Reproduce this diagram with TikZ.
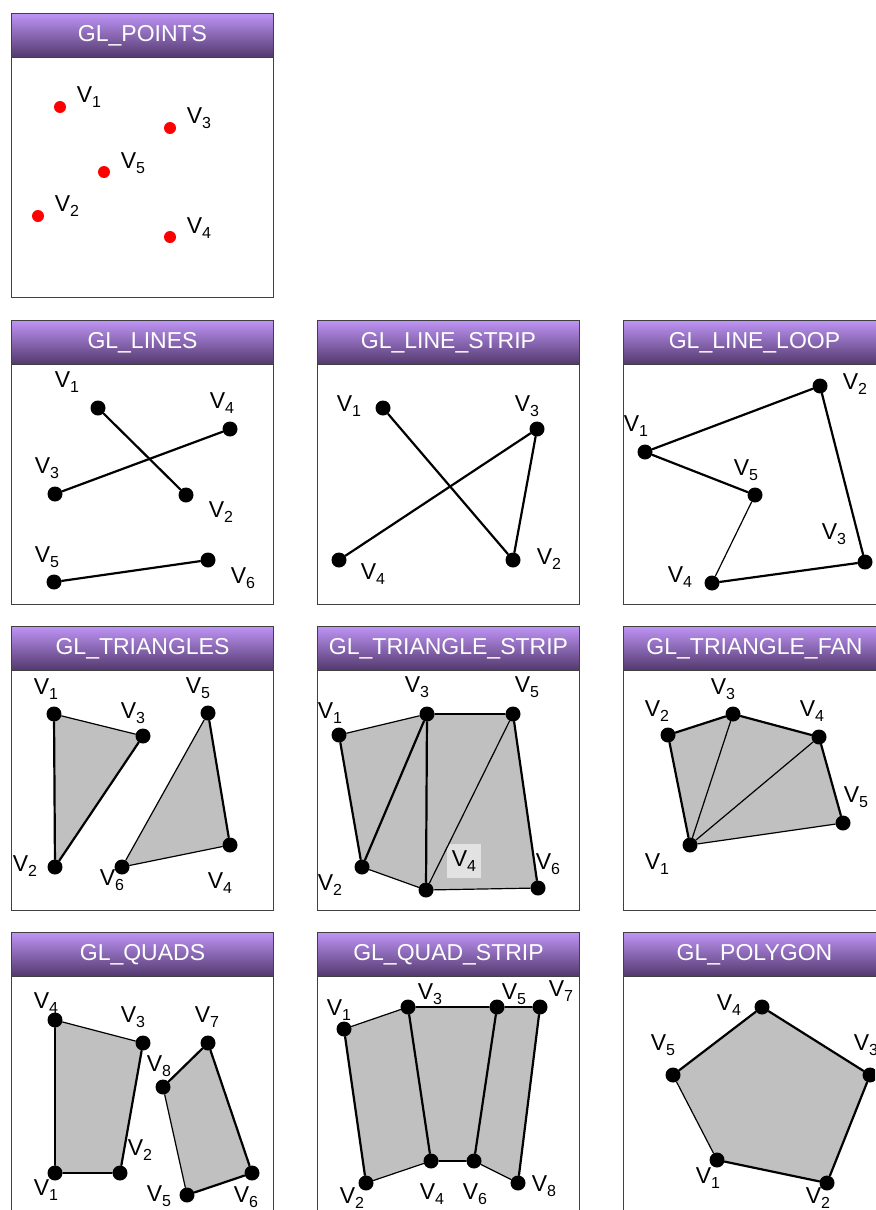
\documentclass[tikz,border=0pt]{standalone}
\usepackage{fontspec}
\setmainfont{Liberation Sans}
\usepackage{xcolor}
\usepackage{tikz}
\usetikzlibrary{positioning, backgrounds}
\definecolor{titletop}{RGB}{190, 148, 245}
\definecolor{titlebot}{RGB}{82, 56, 108}
\definecolor{framegray}{RGB}{64, 64, 64}
\definecolor{facegray}{RGB}{192, 192, 192}
\definecolor{hlgray}{RGB}{226, 226, 226}
\definecolor{pointred}{RGB}{255, 0, 0}
\pgfdeclarelayer{panels}
\pgfsetlayers{panels,background,main}
\newcommand{\vsub}[1]{V\raisebox{-2.2pt}{\fontsize{8}{9}\selectfont #1}}

\begin{document}
\begin{tikzpicture}[
    x=0.5pt, y=-0.5pt,
    panelbox/.style={rectangle, draw=framegray, line width=0.5pt, fill=white, anchor=north west, inner sep=0, minimum width=131pt, minimum height=142pt},
    titlebar/.style={rectangle, draw=framegray, line width=0.5pt, top color=titletop, bottom color=titlebot, anchor=north west, inner sep=0, minimum width=131pt, minimum height=22pt, text=white, font=\fontsize{11.5}{13}\selectfont},
    dot/.style={circle, fill=black, inner sep=0, minimum size=7.5pt},
    reddot/.style={circle, fill=pointred, inner sep=0, minimum size=6pt},
    vlabel/.style={inner sep=0, font=\fontsize{11.5}{13}\selectfont},
    edge/.style={line width=1.1pt, line cap=round},
    thinedge/.style={line width=0.6pt, line cap=round},
    face/.style={fill=facegray}
]
    \useasboundingbox (0,0) rectangle (875,1210);
    \clip (0,0) rectangle (875,1210);

    % panels
    \begin{pgfonlayer}{panels}
        \fill[white] (0,0) rectangle (875,1210);
        \node[panelbox] (points-box) at (11,13) {};
        \node[titlebar] (points-title) at (11,13) {GL\_POINTS};
        \node[panelbox] (lines-box) at (11,320) {};
        \node[titlebar] (lines-title) at (11,320) {GL\_LINES};
        \node[panelbox] (strip-box) at (317,320) {};
        \node[titlebar] (strip-title) at (317,320) {GL\_LINE\_STRIP};
        \node[panelbox] (loop-box) at (623,320) {};
        \node[titlebar] (loop-title) at (623,320) {GL\_LINE\_LOOP};
        \node[panelbox] (tris-box) at (11,626) {};
        \node[titlebar] (tris-title) at (11,626) {GL\_TRIANGLES};
        \node[panelbox] (tstrip-box) at (317,626) {};
        \node[titlebar] (tstrip-title) at (317,626) {GL\_TRIANGLE\_STRIP};
        \node[panelbox] (fan-box) at (623,626) {};
        \node[titlebar] (fan-title) at (623,626) {GL\_TRIANGLE\_FAN};
        \node[panelbox] (quads-box) at (11,932) {};
        \node[titlebar] (quads-title) at (11,932) {GL\_QUADS};
        \node[panelbox] (qstrip-box) at (317,932) {};
        \node[titlebar] (qstrip-title) at (317,932) {GL\_QUAD\_STRIP};
        \node[panelbox] (poly-box) at (623,932) {};
        \node[titlebar] (poly-title) at (623,932) {GL\_POLYGON};
    \end{pgfonlayer}

    % GL_POINTS
    \node[reddot] (pt1) at (60,107) {};
    \node[reddot] (pt2) at (38,216) {};
    \node[reddot] (pt3) at (170,128) {};
    \node[reddot] (pt4) at (170,237) {};
    \node[reddot] (pt5) at (104,172) {};
    \node[vlabel] (pt1-l) at (89,97) {\vsub{1}};
    \node[vlabel] (pt2-l) at (67,206) {\vsub{2}};
    \node[vlabel] (pt3-l) at (199,118) {\vsub{3}};
    \node[vlabel] (pt4-l) at (199,228) {\vsub{4}};
    \node[vlabel] (pt5-l) at (133,163) {\vsub{5}};

    % GL_LINES
    \node[dot] (ln1) at (98,408) {};
    \node[dot] (ln2) at (186,495) {};
    \node[dot] (ln3) at (55,494) {};
    \node[dot] (ln4) at (230,429) {};
    \node[dot] (ln5) at (54,582) {};
    \node[dot] (ln6) at (208,560) {};
    \node[vlabel] (ln1-l) at (67,382) {\vsub{1}};
    \node[vlabel] (ln2-l) at (221,512) {\vsub{2}};
    \node[vlabel] (ln3-l) at (47,468) {\vsub{3}};
    \node[vlabel] (ln4-l) at (222,403) {\vsub{4}};
    \node[vlabel] (ln5-l) at (47,557) {\vsub{5}};
    \node[vlabel] (ln6-l) at (243,578) {\vsub{6}};
    \draw[edge] (ln1) -- (ln2);
    \draw[edge] (ln3) -- (ln4);
    \draw[edge] (ln5) -- (ln6);

    % GL_LINE_STRIP
    \node[dot] (ls1) at (383,408) {};
    \node[dot] (ls2) at (513,560) {};
    \node[dot] (ls3) at (537,429) {};
    \node[dot] (ls4) at (339,560) {};
    \node[vlabel] (ls1-l) at (349,406) {\vsub{1}};
    \node[vlabel] (ls2-l) at (549,559) {\vsub{2}};
    \node[vlabel] (ls3-l) at (527,406) {\vsub{3}};
    \node[vlabel] (ls4-l) at (373,574) {\vsub{4}};
    \draw[edge] (ls1) -- (ls2);
    \draw[edge] (ls2) -- (ls3);
    \draw[edge] (ls3) -- (ls4);

    % GL_LINE_LOOP
    \node[dot] (ll1) at (645,452) {};
    \node[dot] (ll2) at (820,386) {};
    \node[dot] (ll3) at (865,562) {};
    \node[dot] (ll4) at (712,583) {};
    \node[dot] (ll5) at (755,495) {};
    \node[vlabel] (ll1-l) at (636,426) {\vsub{1}};
    \node[vlabel] (ll2-l) at (855,384) {\vsub{2}};
    \node[vlabel] (ll3-l) at (834,534) {\vsub{3}};
    \node[vlabel] (ll4-l) at (680,577) {\vsub{4}};
    \node[vlabel] (ll5-l) at (746,470) {\vsub{5}};
    \draw[edge] (ll1) -- (ll2);
    \draw[edge] (ll2) -- (ll3);
    \draw[edge] (ll3) -- (ll4);
    \draw[thinedge] (ll4) -- (ll5);
    \draw[edge] (ll5) -- (ll1);

    % GL_TRIANGLES
    \node[dot] (tr1) at (54,714) {};
    \node[dot] (tr2) at (55,867) {};
    \node[dot] (tr3) at (143,736) {};
    \node[dot] (tr4) at (230,845) {};
    \node[dot] (tr5) at (208,713) {};
    \node[dot] (tr6) at (122,867) {};
    \node[vlabel] (tr1-l) at (46,689) {\vsub{1}};
    \node[vlabel] (tr2-l) at (25,866) {\vsub{2}};
    \node[vlabel] (tr3-l) at (133,713) {\vsub{3}};
    \node[vlabel] (tr4-l) at (220,883) {\vsub{4}};
    \node[vlabel] (tr5-l) at (198,688) {\vsub{5}};
    \node[vlabel] (tr6-l) at (112,880) {\vsub{6}};
    \begin{scope}[on background layer]
        \fill[face] (tr1.center) -- (tr2.center) -- (tr3.center) -- cycle;
        \fill[face] (tr4.center) -- (tr5.center) -- (tr6.center) -- cycle;
    \end{scope}
    \draw[edge] (tr1) -- (tr2);
    \draw[edge] (tr2) -- (tr3);
    \draw[thinedge] (tr3) -- (tr1);
    \draw[edge] (tr5) -- (tr4);
    \draw[thinedge] (tr4) -- (tr6);
    \draw[thinedge] (tr6) -- (tr5);

    % GL_TRIANGLE_STRIP
    \node[dot] (ts1) at (339,735) {};
    \node[dot] (ts2) at (362,867) {};
    \node[dot] (ts3) at (427,714) {};
    \node[dot] (ts4) at (426,890) {};
    \node[dot] (ts5) at (513,714) {};
    \node[dot] (ts6) at (538,888) {};
    \node[vlabel] (ts1-l) at (330,713) {\vsub{1}};
    \node[vlabel] (ts2-l) at (330,885) {\vsub{2}};
    \node[vlabel] (ts3-l) at (417,687) {\vsub{3}};
    \node[vlabel, fill=hlgray, minimum width=17pt, minimum height=17pt] (ts4-l) at (464,861) {\vsub{4}};
    \node[vlabel] (ts5-l) at (527,687) {\vsub{5}};
    \node[vlabel] (ts6-l) at (548,864) {\vsub{6}};
    \begin{scope}[on background layer]
        \fill[face] (ts1.center) -- (ts3.center) -- (ts5.center) -- (ts6.center) -- (ts4.center) -- (ts2.center) -- cycle;
    \end{scope}
    \draw[thinedge] (ts1) -- (ts3);
    \draw[edge] (ts1) -- (ts2);
    \draw[edge] (ts2) -- (ts3);
    \draw[thinedge] (ts2) -- (ts4);
    \draw[edge] (ts3) -- (ts4);
    \draw[thinedge] (ts3) -- (ts5);
    \draw[thinedge] (ts4) -- (ts5);
    \draw[edge] (ts5) -- (ts6);
    \draw[thinedge] (ts4) -- (ts6);

    % GL_TRIANGLE_FAN
    \node[dot] (tf1) at (690,845) {};
    \node[dot] (tf2) at (668,735) {};
    \node[dot] (tf3) at (733,714) {};
    \node[dot] (tf4) at (819,737) {};
    \node[dot] (tf5) at (843,823) {};
    \node[vlabel] (tf1-l) at (657,864) {\vsub{1}};
    \node[vlabel] (tf2-l) at (657,711) {\vsub{2}};
    \node[vlabel] (tf3-l) at (723,689) {\vsub{3}};
    \node[vlabel] (tf4-l) at (812,711) {\vsub{4}};
    \node[vlabel] (tf5-l) at (856,797) {\vsub{5}};
    \begin{scope}[on background layer]
        \fill[face] (tf1.center) -- (tf2.center) -- (tf3.center) -- (tf4.center) -- (tf5.center) -- cycle;
    \end{scope}
    \draw[edge] (tf1) -- (tf2);
    \draw[edge] (tf2) -- (tf3);
    \draw[edge] (tf3) -- (tf4);
    \draw[edge] (tf4) -- (tf5);
    \draw[thinedge] (tf5) -- (tf1);
    \draw[thinedge] (tf1) -- (tf3);
    \draw[thinedge] (tf1) -- (tf4);

    % GL_QUADS
    \node[dot] (qd1) at (55,1173) {};
    \node[dot] (qd2) at (120,1173) {};
    \node[dot] (qd3) at (143,1043) {};
    \node[dot] (qd4) at (55,1020) {};
    \node[dot] (qd5) at (187,1195) {};
    \node[dot] (qd6) at (252,1173) {};
    \node[dot] (qd7) at (208,1043) {};
    \node[dot] (qd8) at (163,1087) {};
    \node[vlabel] (qd1-l) at (46,1190) {\vsub{1}};
    \node[vlabel] (qd2-l) at (140,1150) {\vsub{2}};
    \node[vlabel] (qd3-l) at (133,1017) {\vsub{3}};
    \node[vlabel] (qd4-l) at (46,1003) {\vsub{4}};
    \node[vlabel] (qd5-l) at (159,1196) {\vsub{5}};
    \node[vlabel] (qd6-l) at (246,1197) {\vsub{6}};
    \node[vlabel] (qd7-l) at (207,1017) {\vsub{7}};
    \node[vlabel] (qd8-l) at (159,1066) {\vsub{8}};
    \begin{scope}[on background layer]
        \fill[face] (qd1.center) -- (qd2.center) -- (qd3.center) -- (qd4.center) -- cycle;
        \fill[face] (qd5.center) -- (qd6.center) -- (qd7.center) -- (qd8.center) -- cycle;
    \end{scope}
    \draw[thinedge] (qd1) -- (qd2);
    \draw[edge] (qd2) -- (qd3);
    \draw[thinedge] (qd3) -- (qd4);
    \draw[edge] (qd4) -- (qd1);
    \draw[edge] (qd5) -- (qd6);
    \draw[edge] (qd6) -- (qd7);
    \draw[edge] (qd7) -- (qd8);
    \draw[thinedge] (qd8) -- (qd5);

    % GL_QUAD_STRIP
    \node[dot] (qs1) at (344,1029) {};
    \node[dot] (qs2) at (366,1183) {};
    \node[dot] (qs3) at (408,1007) {};
    \node[dot] (qs4) at (431,1161) {};
    \node[dot] (qs5) at (497,1007) {};
    \node[dot] (qs6) at (474,1161) {};
    \node[dot] (qs7) at (540,1007) {};
    \node[dot] (qs8) at (518,1183) {};
    \node[vlabel] (qs1-l) at (339,1010) {\vsub{1}};
    \node[vlabel] (qs2-l) at (352,1198) {\vsub{2}};
    \node[vlabel] (qs3-l) at (430,994) {\vsub{3}};
    \node[vlabel] (qs4-l) at (432,1194) {\vsub{4}};
    \node[vlabel] (qs5-l) at (514,994) {\vsub{5}};
    \node[vlabel] (qs6-l) at (475,1194) {\vsub{6}};
    \node[vlabel] (qs7-l) at (561,991) {\vsub{7}};
    \node[vlabel] (qs8-l) at (544,1186) {\vsub{8}};
    \begin{scope}[on background layer]
        \fill[face] (qs1.center) -- (qs3.center) -- (qs5.center) -- (qs7.center) -- (qs8.center) -- (qs6.center) -- (qs4.center) -- (qs2.center) -- cycle;
    \end{scope}
    \draw[thinedge] (qs1) -- (qs3);
    \draw[edge] (qs1) -- (qs2);
    \draw[thinedge] (qs2) -- (qs4);
    \draw[edge] (qs3) -- (qs4);
    \draw[thinedge] (qs3) -- (qs5);
    \draw[thinedge] (qs4) -- (qs6);
    \draw[edge] (qs5) -- (qs6);
    \draw[thinedge] (qs5) -- (qs7);
    \draw[thinedge] (qs6) -- (qs8);
    \draw[edge] (qs7) -- (qs8);

    % GL_POLYGON
    \node[dot] (pg1) at (717,1160) {};
    \node[dot] (pg2) at (827,1183) {};
    \node[dot] (pg3) at (870,1075) {};
    \node[dot] (pg4) at (762,1007) {};
    \node[dot] (pg5) at (673,1075) {};
    \node[vlabel] (pg1-l) at (708,1178) {\vsub{1}};
    \node[vlabel] (pg2-l) at (818,1198) {\vsub{2}};
    \node[vlabel] (pg3-l) at (866,1045) {\vsub{3}};
    \node[vlabel] (pg4-l) at (729,1005) {\vsub{4}};
    \node[vlabel] (pg5-l) at (663,1045) {\vsub{5}};
    \begin{scope}[on background layer]
        \fill[face] (pg1.center) -- (pg2.center) -- (pg3.center) -- (pg4.center) -- (pg5.center) -- cycle;
    \end{scope}
    \draw[edge] (pg1) -- (pg2);
    \draw[edge] (pg2) -- (pg3);
    \draw[edge] (pg3) -- (pg4);
    \draw[edge] (pg4) -- (pg5);
    \draw[thinedge] (pg5) -- (pg1);
\end{tikzpicture}
\end{document}
